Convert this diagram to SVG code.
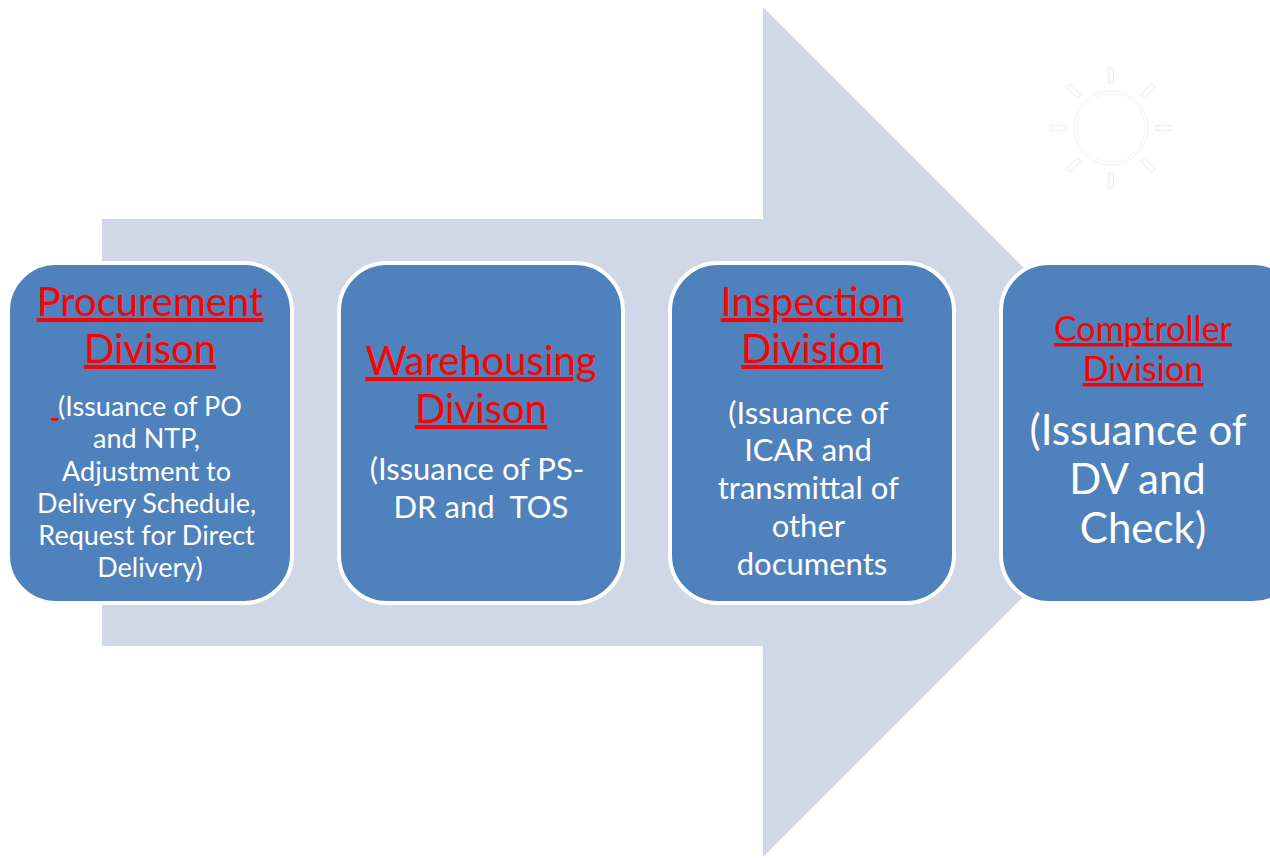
<svg xmlns="http://www.w3.org/2000/svg" width="1270" height="858" viewBox="0 0 1270 858">
  <style>
    .box { fill: #4F81BD; stroke: #FFFFFF; stroke-width: 4; }
    .title { font-family: Lato, "Liberation Sans", sans-serif; fill: #FF0000; text-anchor: middle; text-decoration: underline; }
    .body { font-family: Lato, "Liberation Sans", sans-serif; fill: #FFFFFF; text-anchor: middle; }
    .ray { fill: #FFFFFF; stroke: #EEEEEE; stroke-width: 1; }
  </style>

  <rect width="1270" height="858" fill="#FFFFFF"/>

  <!-- background process arrow -->
  <g id="connectors">
    <polygon points="102,219 763,219 763,7 1188,432 763,857 763,646 102,646" fill="#D0D8E8"/>
  </g>

  <!-- decorative sun glyph, white on white -->
  <g id="sun" transform="translate(1111,128)">
    <circle r="37" fill="#FFFFFF" stroke="#F0F0F0" stroke-width="1"/>
    <circle r="34" fill="none" stroke="#F5F5F5" stroke-width="1"/>
    <g>
      <rect class="ray" x="-2.5" y="-60" width="5" height="15"/>
      <rect class="ray" x="-2.5" y="-60" width="5" height="15" transform="rotate(45)"/>
      <rect class="ray" x="-2.5" y="-60" width="5" height="15" transform="rotate(90)"/>
      <rect class="ray" x="-2.5" y="-60" width="5" height="15" transform="rotate(135)"/>
      <rect class="ray" x="-2.5" y="-60" width="5" height="15" transform="rotate(180)"/>
      <rect class="ray" x="-2.5" y="-60" width="5" height="15" transform="rotate(225)"/>
      <rect class="ray" x="-2.5" y="-60" width="5" height="15" transform="rotate(270)"/>
      <rect class="ray" x="-2.5" y="-60" width="5" height="15" transform="rotate(315)"/>
    </g>
  </g>

  <g id="procurement">
    <rect class="box" x="8" y="263" width="284" height="340" rx="48" ry="48"/>
    <text class="title" font-size="40" x="150" y="316">Procurement</text>
    <text class="title" font-size="40" x="150" y="363">Divison</text>
    <text class="body" font-size="27">
      <tspan x="150" y="416"><tspan fill="#FF0000" text-decoration="underline">&#160;</tspan>(Issuance of PO</tspan>
      <tspan x="150" y="448">and NTP,</tspan>
      <tspan x="150" y="481">Adjustment to</tspan>
      <tspan x="150" y="513">Delivery Schedule,</tspan>
      <tspan x="150" y="545">Request for Direct</tspan>
      <tspan x="150" y="577">Delivery)</tspan>
    </text>
  </g>

  <g id="warehousing">
    <rect class="box" x="339" y="263" width="284" height="340" rx="48" ry="48"/>
    <text class="title" font-size="40" x="481" y="375">Warehousing</text>
    <text class="title" font-size="40" x="481" y="423">Divison</text>
    <text class="body" font-size="31">
      <tspan x="481" y="480">(Issuance of PS-</tspan>
      <tspan x="481" y="518" xml:space="preserve">DR and  TOS</tspan>
    </text>
  </g>

  <g id="inspection">
    <rect class="box" x="670" y="263" width="284" height="340" rx="48" ry="48"/>
    <text class="title" font-size="40" x="812" y="316">Inspection</text>
    <text class="title" font-size="40" x="812" y="363">Division</text>
    <text class="body" font-size="31">
      <tspan x="812" y="424">(Issuance of</tspan>
      <tspan x="812" y="461">ICAR and</tspan>
      <tspan x="812" y="499">transmittal of</tspan>
      <tspan x="812" y="537">other</tspan>
      <tspan x="812" y="575">documents</tspan>
    </text>
  </g>

  <g id="comptroller">
    <rect class="box" x="1001" y="263" width="300" height="340" rx="48" ry="48"/>
    <text class="title" font-size="34" x="1143" y="341">Comptroller</text>
    <text class="title" font-size="34" x="1143" y="381">Division</text>
    <text class="body" font-size="42">
      <tspan x="1143" y="445">(Issuance of</tspan>
      <tspan x="1143" y="494">DV and</tspan>
      <tspan x="1143" y="543">Check)</tspan>
    </text>
  </g>
</svg>
